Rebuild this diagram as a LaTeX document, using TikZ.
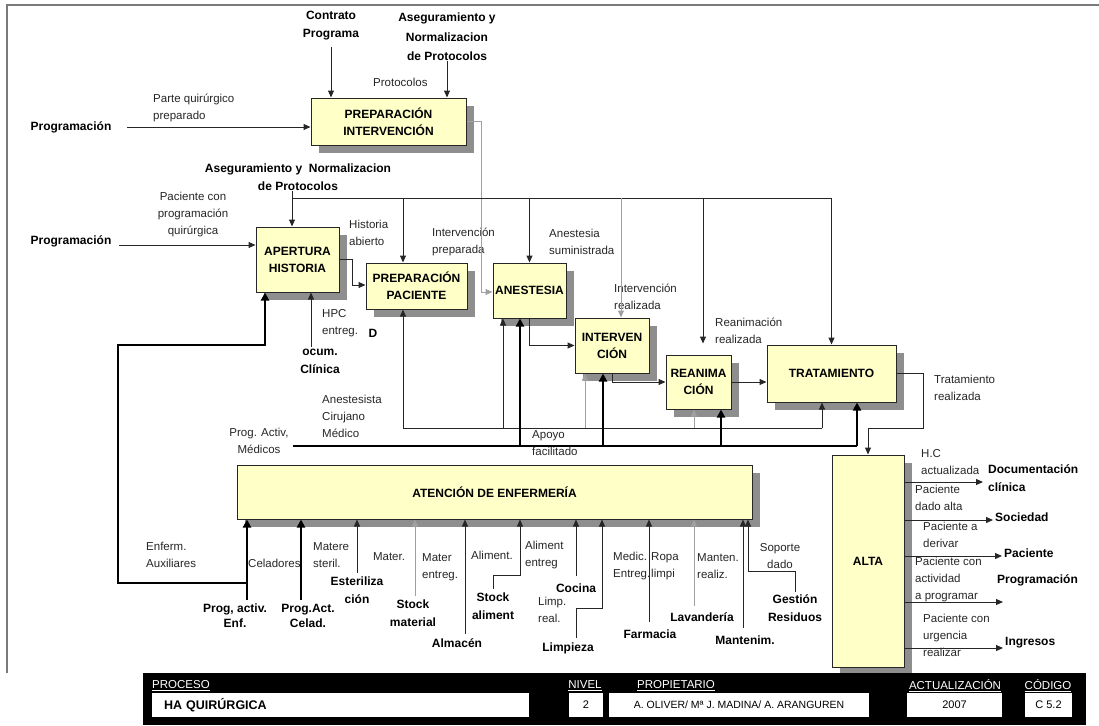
\documentclass[tikz,border=0pt]{standalone}
\usepackage{fontspec}
\setmainfont{Liberation Sans}
\usetikzlibrary{arrows.meta,shadows,calc}
\definecolor{boxfill}{HTML}{FFFFC8}
\definecolor{shadowgray}{HTML}{8E8E8E}
\definecolor{wirecol}{HTML}{262626}
\definecolor{greywire}{HTML}{A0A0A0}
\definecolor{framecol}{HTML}{7A7A7A}

\begin{document}
\begin{tikzpicture}[x=1pt,y=-1pt,
  proc/.style={draw=black!85, line width=1pt, fill=boxfill,
    font=\bfseries\fontsize{12}{17}\selectfont, align=center, inner sep=1pt,
    drop shadow={shadow xshift=8pt, shadow yshift=-8pt, fill=shadowgray, opacity=1}},
  lbl/.style={font=\fontsize{11.5}{17}\selectfont, align=left, inner sep=0pt, text=black!85},
  ent/.style={font=\bfseries\fontsize{12}{18}\selectfont, align=center, inner sep=0pt},
  wire/.style={draw=wirecol, line width=1pt},
  arr/.style={wire, -{Triangle[length=7pt,width=6pt]}},
  garr/.style={draw=greywire, line width=1pt, -{Triangle[length=7pt,width=6pt]}},
  tline/.style={draw=black, line width=2.6pt},
  tarr/.style={tline, -{Triangle[length=8pt,width=8pt]}},
  barbox/.style={fill=white, draw=none, minimum height=24pt, inner sep=0pt,
    font=\fontsize{11}{13}\selectfont},
  barlbl/.style={text=white, inner sep=0pt, font=\fontsize{11.5}{13}\selectfont},
]
\useasboundingbox (0,0) rectangle (1099,725);

% outer frame
\draw[framecol, line width=1.2pt] (7,673) -- (7,5) -- (1099,5);

% ---------------- activity boxes ----------------
\node[proc, minimum width=155pt, minimum height=47pt] (pint) at (388.5,121.5) {PREPARACIÓN\\INTERVENCIÓN};
\node[proc, minimum width=83pt, minimum height=65pt] (aper) at (297.5,259.5) {APERTURA\\HISTORIA};
\node[proc, minimum width=101pt, minimum height=46pt] (ppac) at (416.5,286) {PREPARACIÓN\\PACIENTE};
\node[proc, minimum width=73pt, minimum height=55pt] (anes) at (529.5,290.5) {ANESTESIA};
\node[proc, minimum width=74pt, minimum height=55pt] (inte) at (612,345.5) {INTERVEN\\CIÓN};
\node[proc, minimum width=65pt, minimum height=54pt] (rean) at (698.5,382) {REANIMA\\CIÓN};
\node[proc, minimum width=129pt, minimum height=57pt] (trat) at (831.5,373.5) {TRATAMIENTO};
\node[proc, minimum width=515pt, minimum height=54pt] (aten) at (494.5,492) {ATENCIÓN DE ENFERMERÍA};
\node[proc, minimum width=72pt, minimum height=212pt] (alta) at (868,561) {ALTA};

% ---------------- upper labels ----------------
\node[ent] (contr) at (331,26) {Contrato\\Programa};
\node[ent, font=\bfseries\fontsize{12}{19.5}\selectfont] (aseg1) at (447,37) {Aseguramiento y\\Normalizacion\\de Protocolos};
\node[lbl, anchor=west] (prot) at (373,82) {Protocolos};
\node[lbl, anchor=west] (parte) at (153,108) {Parte quirúrgico\\preparado};
\node[ent] (prog1) at (71,127) {Programación};
\node[ent] (aseg2) at (298,177) {Aseguramiento y\ \ Normalizacion\\de Protocolos};
\node[lbl, align=center] (pcq) at (193,215) {Paciente con\\programación\\quirúrgica};
\node[ent] (prog2) at (71,241) {Programación};
\node[lbl, anchor=west] (hab) at (349,233) {Historia\\abierto};
\node[lbl, anchor=west] (ipre) at (432,242) {Intervención\\preparada};
\node[lbl, anchor=west] (asum) at (549,242) {Anestesia\\suministrada};
\node[lbl, anchor=west] (irea) at (614,297) {Intervención\\realizada};
\node[lbl, anchor=west] (rrea) at (715,331) {Reanimación\\realizada};
\node[lbl, anchor=west] (trea) at (934,388) {Tratamiento\\realizada};
\node[lbl, anchor=west] (hpc) at (322,323) {HPC\\entreg.};
\node[ent] (dch) at (373,333) {D};
\node[ent] (ocum) at (320,361) {ocum.\\Clínica};
\node[lbl, anchor=west] (acm) at (322,416) {Anestesista\\Cirujano\\Médico};
\node[lbl, align=center] (pam) at (259,441) {Prog. Activ,\\Médicos};
\node[lbl, anchor=west] (apoyo) at (532,443) {Apoyo\\facilitado};

% ---------------- flows in the upper part ----------------
\draw[arr, shorten <=6pt] (contr.south) -- (contr.south |- pint.north);
\draw[arr] (aseg1.south) -- (aseg1.south |- pint.north);
\coordinate (p1) at (127,127);
\draw[arr] (p1) -- (p1 -| pint.west);

% prepared intervention goes on to anaesthesia
\coordinate (g1) at (481,292);
\draw[garr] (pint.east) -| (g1) -- (g1 -| anes.west);

% protocol control bus
\coordinate (tb) at (292,198);
\draw[wire] (tb) -- (tb -| trat.north);
\draw[arr] (aseg2.south -| tb) -- (tb |- aper.north);
\draw[arr] ([xshift=-13.5pt]ppac.north |- tb) -- ([xshift=-13.5pt]ppac.north);
\draw[arr] (anes.north |- tb) -- (anes.north);
\draw[garr] ([xshift=9pt]inte.north |- tb) -- ([xshift=9pt]inte.north);
\draw[arr, shorten >=11pt] ([xshift=4.5pt]rean.north |- tb) -- ([xshift=4.5pt]rean.north);
\draw[arr] (trat.north |- tb) -- (trat.north);

\coordinate (p2) at (119,245);
\draw[arr] (p2) -- (p2 -| aper.west);

\coordinate (a1) at (352,285);
\draw[arr] (aper.east) -| (a1) -- (a1 -| ppac.west);
\draw[arr] (anes.south) |- (inte.west);
\draw[arr] (inte.south) |- (rean.west);
\draw[arr] (rean.east) -- (rean.east -| trat.west);
\coordinate (t1) at (923,428);
\draw[arr] (trat.east) -| (t1) -| (alta.north);

\coordinate (h1) at (311,347);
\draw[arr] (h1) -- (h1 |- aper.south);

% nursing programme also feeds the opening of the record
\coordinate (k1) at (247,583);
\coordinate (k2) at (118,345);
\draw[tarr] (k1) -| (k2) -| ([xshift=-32.5pt]aper.south);

% medical staff bus (thin)
\coordinate (b1) at (403,428);
\draw[wire] (b1) -- ([xshift=-9.5pt]trat.south |- b1);
\draw[arr] (b1) -- (b1 |- ppac.south);
\draw[arr] ([xshift=-26.5pt]anes.south |- b1) -- ([xshift=-26.5pt]anes.south);
\draw[garr] ([xshift=-27pt]inte.south |- b1) -- ([xshift=-27pt]inte.south);
\draw[garr] ([xshift=-4.5pt]rean.south |- b1) -- ([xshift=-4.5pt]rean.south);
\draw[arr] ([xshift=-9.5pt]trat.south |- b1) -- ([xshift=-9.5pt]trat.south);

% medical programme bus (thick)
\coordinate (b2) at (293,446);
\draw[tline] (b2) -- ([xshift=25.5pt]trat.south |- b2);
\draw[tarr] ([xshift=-9.5pt]anes.south |- b2) -- ([xshift=-9.5pt]anes.south);
\draw[tarr] ([xshift=-9pt]inte.south |- b2) -- ([xshift=-9pt]inte.south);
\draw[tarr] ([xshift=22.5pt]rean.south |- b2) -- ([xshift=22.5pt]rean.south);
\draw[tarr] ([xshift=25.5pt]trat.south |- b2) -- ([xshift=25.5pt]trat.south);

% ---------------- supports of the nursing activity ----------------
\node[lbl, anchor=west] (enfa) at (146,555) {Enferm.\\Auxiliares};
\node[ent, font=\bfseries\fontsize{12}{15}\selectfont] (pae) at (235,616) {Prog, activ.\\Enf.};
\node[lbl, anchor=west] (cel) at (248,563) {Celadores};
\node[ent, font=\bfseries\fontsize{12}{15}\selectfont] (pac) at (308,616) {Prog.Act.\\Celad.};
\node[lbl, anchor=west] (mst) at (313,555) {Matere\\steril.};
\node[ent] (est) at (357,590) {Esteriliza\\ción};
\node[lbl] (mat1) at (389,557) {Mater.};
\node[lbl, anchor=west] (mat2) at (422,567) {Mater\\entreg.};
\node[ent] (stm) at (413,613) {Stock\\material};
\node[ent] (alm) at (457,643) {Almacén};
\node[lbl] (ali1) at (492,555) {Aliment.};
\node[ent] (sta) at (493,606) {Stock\\aliment};
\node[lbl, anchor=west] (ali2) at (525,555) {Aliment\\entreg};
\node[ent] (coc) at (576,588) {Cocina};
\node[lbl, anchor=west] (lre) at (538,610) {Limp.\\real.};
\node[ent] (lim) at (568,648) {Limpieza};
\node[lbl, anchor=west] (med) at (613,566) {Medic.\\Entreg.};
\node[lbl, anchor=west] (rop) at (651,566) {Ropa\\limpi};
\node[lbl, anchor=west] (man) at (697,566) {Manten.\\realiz.};
\node[ent] (far) at (650,634) {Farmacia};
\node[ent] (lav) at (702,617) {Lavandería};
\node[ent] (mnt) at (745,640) {Mantenim.};
\node[lbl, align=center] (sop) at (780,556) {Soporte\\dado};
\node[ent] (ges) at (795,608) {Gestión\\Residuos};

\coordinate (u1) at (247,600);
\draw[tarr] (u1) -- (u1 |- aten.south);
\coordinate (u2) at (301,600);
\draw[tarr] (u2) -- (u2 |- aten.south);
\coordinate (u3) at (357,573);
\draw[arr] (u3) -- (u3 |- aten.south);
\coordinate (u4) at (415,596);
\draw[garr] (u4) -- (u4 |- aten.south);
\coordinate (u5) at (465,634);
\draw[arr] (u5) -- (u5 |- aten.south);
\coordinate (u6) at (493,589);
\coordinate (u6b) at (520,575);
\draw[arr] (u6) |- (u6b) -- (u6b |- aten.south);
\coordinate (u7) at (576,576);
\draw[arr] (u7) -- (u7 |- aten.south);
\coordinate (u8) at (576,638);
\coordinate (u8b) at (602,608);
\draw[arr] (u8) |- (u8b) -- (u8b |- aten.south);
\coordinate (u9) at (649,622);
\draw[arr] (u9) -- (u9 |- aten.south);
\coordinate (u10) at (694,606);
\draw[garr] (u10) -- (u10 |- aten.south);
\coordinate (u11) at (743,628);
\draw[arr] (u11) -- (u11 |- aten.south);
\coordinate (u12) at (795,592);
\coordinate (u12b) at (748,571);
\draw[arr] (u12) |- (u12b) -- (u12b |- aten.south);

% ---------------- outputs of the discharge ----------------
\node[lbl, anchor=west] (hca) at (921,462) {H.C\\actualizada};
\node[ent, anchor=west, align=left] (doc) at (988,478) {Documentación\\clínica};
\node[lbl, anchor=west] (pda) at (915,498) {Paciente\\dado alta};
\node[ent, anchor=west] (soc) at (995,517) {Sociedad};
\node[lbl, anchor=west] (pde) at (923,535) {Paciente a\\derivar};
\node[ent, anchor=west] (pac2) at (1004,553) {Paciente};
\node[lbl, anchor=west] (pap) at (915,580) {Paciente con\\actividad\\a programar};
\node[ent, anchor=west] (prg3) at (997,580) {Programación};
\node[lbl, anchor=west] (pur) at (923,635) {Paciente con\\urgencia\\realizar};
\node[ent, anchor=west] (ing) at (1005,643) {Ingresos};

\coordinate (o1) at (983,482);
\draw[arr] (alta.east |- o1) -- (o1);
\coordinate (o2) at (993,520);
\draw[arr] (alta.east |- o2) -- (o2);
\coordinate (o3) at (1002,556);
\draw[arr] (alta.east |- o3) -- (o3);
\coordinate (o4) at (1003,602);
\draw[arr] (alta.east |- o4) -- (o4);
\coordinate (o5) at (1003,648);
\draw[arr] (alta.east |- o5) -- (o5);

% ---------------- title block ----------------
\fill[black] (143,673) rectangle (1086,725);
\node[barlbl, anchor=west] (lproc) at (152,686) {\underline{PROCESO}};
\node[barlbl] (lniv) at (585,686) {\underline{NIVEL}};
\node[barlbl] (lprop) at (676,686) {\underline{PROPIETARIO}};
\node[barlbl] (lact) at (955,686) {\underline{ACTUALIZACIÓN}};
\node[barlbl] (lcod) at (1048,686) {\underline{CÓDIGO}};
\node[barbox, minimum width=377pt, text width=353pt, align=left,
  font=\bfseries\fontsize{12.5}{14}\selectfont] (vproc) at (340.5,705) {HA QUIRÚRGICA};
\node[barbox, minimum width=34pt] (vniv) at (586,705) {2};
\node[barbox, minimum width=260pt, font=\fontsize{10.5}{13}\selectfont] (vprop) at (739,705) {A. OLIVER/ Mª J. MADINA/ A. ARANGUREN};
\node[barbox, minimum width=95pt] (vact) at (954.5,705) {2007};
\node[barbox, minimum width=47pt] (vcod) at (1048.5,705) {C 5.2};
\end{tikzpicture}
\end{document}
